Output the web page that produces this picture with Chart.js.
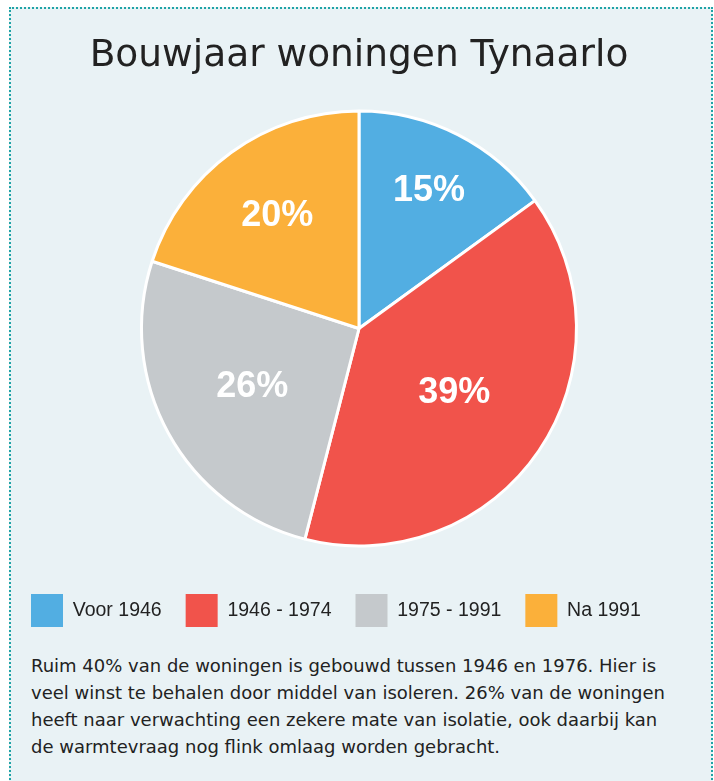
<!DOCTYPE html>
<html>
<head>
<meta charset="utf-8">
<script src="https://cdn.jsdelivr.net/npm/chart.js@4/dist/chart.umd.min.js"></script>
<style>
  html, body { margin: 0; padding: 0; background: #ffffff; }
  body { width: 714px; height: 781px; position: relative; overflow: hidden; font-family: "DejaVu Sans", sans-serif; }
  #frame { position: absolute; left: 9px; top: 7px; width: 700px; height: 800px; border: 2px dotted #1fa3a6; background: #e9f2f5; }
  #wrap { position: absolute; left: 0; top: 0; width: 714px; height: 637px; }
  #note { position: absolute; left: 31px; top: 652px; width: 680px; font-size: 18px; line-height: 27px; color: #222; white-space: nowrap; }
</style>
</head>
<body>
<div id="frame"></div>
<div id="wrap"><canvas id="c"></canvas></div>
<div id="note">Ruim 40% van de woningen is gebouwd tussen 1946 en 1976. Hier is<br>veel winst te behalen door middel van isoleren. 26% van de woningen<br>heeft naar verwachting een zekere mate van isolatie, ook daarbij kan<br>de warmtevraag nog flink omlaag worden gebracht.</div>
<script>
const titleText = "Bouwjaar woningen Tynaarlo";
const categories = ["Voor 1946", "1946 - 1974", "1975 - 1991", "Na 1991"];
const shares = [15, 39, 26, 20];
const sliceColors = ["#52aee2", "#f1534b", "#c5c9cc", "#fbb03a"];

const labelRadiusFractions = [0.71, 0.53, 0.56, 0.64];

const sliceLabels = {
  id: "sliceLabels",
  afterDatasetsDraw(chart) {
    const ctx = chart.ctx;
    const meta = chart.getDatasetMeta(0);
    ctx.save();
    ctx.fillStyle = "#ffffff";
    ctx.font = "bold 36px 'Liberation Sans', Arial, sans-serif";
    ctx.textAlign = "center";
    ctx.textBaseline = "middle";
    meta.data.forEach((arc, i) => {
      const p = arc.getProps(["x", "y", "startAngle", "endAngle", "outerRadius"], true);
      const mid = (p.startAngle + p.endAngle) / 2;
      const r = p.outerRadius * labelRadiusFractions[i];
      ctx.fillText(shares[i] + "%", p.x + Math.cos(mid) * r, p.y + Math.sin(mid) * r);
    });
    ctx.restore();
  }
};

new Chart(document.getElementById("c"), {
  type: "pie",
  data: {
    labels: categories,
    datasets: [{
      data: shares,
      backgroundColor: sliceColors,
      borderColor: "#ffffff",
      borderWidth: 3,
      radius: 217.5
    }]
  },
  options: {
    responsive: true,
    maintainAspectRatio: false,
    animation: false,
    layout: { padding: { left: 7, right: 3, top: 0, bottom: 0 } },
    plugins: {
      title: {
        display: true,
        text: titleText,
        color: "#222222",
        font: { size: 37.5, weight: "normal", family: "'DejaVu Sans', sans-serif" },
        padding: { top: 34, bottom: 8 }
      },
      legend: {
        position: "bottom",
        align: "start",
        labels: {
          boxWidth: 32,
          boxHeight: 33,
          padding: 24,
          color: "#222222",
          font: { size: 19.5, family: "'Liberation Sans', Arial, sans-serif" },
          generateLabels(chart) {
            const items = Chart.overrides.pie.plugins.legend.labels.generateLabels(chart);
            items.forEach(it => { it.lineWidth = 0; it.strokeStyle = "rgba(0,0,0,0)"; });
            return items;
          }
        }
      },
      tooltip: { enabled: false }
    }
  },
  plugins: [sliceLabels]
});
</script>
</body>
</html>
